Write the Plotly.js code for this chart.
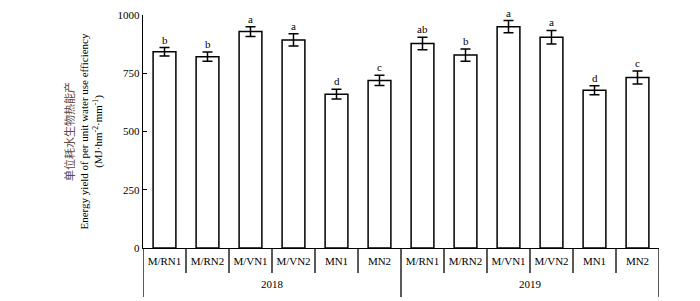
<!DOCTYPE html>
<html>
<head>
<meta charset="utf-8">
<script src="https://cdn.plot.ly/plotly-3.0.1.min.js"></script>
<style>html,body{margin:0;padding:0;background:#fff;}#chart{width:700px;height:301px;}</style>
</head>
<body>
<div id="chart"></div>
<script>
var categories = ["M/RN1","M/RN2","M/VN1","M/VN2","MN1","MN2","M/RN1","M/RN2","M/VN1","M/VN2","MN1","MN2"];
var years = ["2018","2019"];
var values = [842, 821, 929, 893, 660, 719, 878, 828, 950, 905, 677, 732];
var errors = [18, 20, 21, 26, 21, 22, 27, 26, 26, 29, 19, 28];
var letters = ["b","b","a","a","d","c","ab","b","a","a","d","c"];
var yTicks = [0, 250, 500, 750, 1000];

var xs = categories.map(function(_, i){ return i; });
var font = "Liberation Serif, Times New Roman, serif";

var trace = {
  type: "bar",
  x: xs,
  y: values,
  width: 0.53,
  marker: {color: "#ffffff", line: {color: "#000000", width: 1.5}},
  error_y: {type: "data", array: errors, visible: true, color: "#000000", thickness: 1.5, width: 5},
  hoverinfo: "none"
};

var annotations = [];
letters.forEach(function(t, i){
  annotations.push({x: xs[i], y: values[i] + errors[i], xref: "x", yref: "y", text: t, showarrow: false,
    yanchor: "bottom", font: {family: font, size: 11, color: "#000"}});
});
years.forEach(function(yr, k){
  annotations.push({x: 2.5 + 6*k, y: -0.155, xref: "x", yref: "paper", text: yr, showarrow: false,
    yanchor: "middle", font: {family: font, size: 11, color: "#000"}});
});

var shapes = [];
for (var i = 0; i <= categories.length; i++) {
  var pos = i - 0.5;
  var longLine = (i % 6 === 0);
  shapes.push({type: "line", xref: "x", yref: "paper", x0: pos, x1: pos, y0: 0, y1: longLine ? -0.21 : -0.107,
    line: {color: "#000", width: 1.3}});
}

var layout = {
  width: 700, height: 301,
  margin: {l: 143, r: 41, t: 15, b: 53},
  paper_bgcolor: "#fff", plot_bgcolor: "#fff",
  showlegend: false,
  xaxis: {
    range: [-0.5, 11.5], tickvals: xs, ticktext: categories, ticks: "", showgrid: false, zeroline: false,
    showline: true, linecolor: "#000", linewidth: 1.3, fixedrange: true,
    tickfont: {family: font, size: 11, color: "#000"}, ticklabelstandoff: 2
  },
  yaxis: {
    range: [0, 1000], tickvals: yTicks, ticktext: yTicks.map(String), ticks: "inside", ticklen: 4, tickwidth: 1.3,
    tickcolor: "#000", showgrid: false, zeroline: false, showline: true, linecolor: "#000", linewidth: 1.3,
    tickfont: {family: font, size: 11, color: "#000"}, automargin: false,
    title: {text: '<span style="color:#5e4a42;font-family:Noto Sans CJK SC">单位耗水生物热能产</span><br>Energy yield of per unit water use efficiency<br>(MJ·hm<sup>-2</sup>·mm<sup>-1</sup>)',
      font: {family: font, size: 11, color: "#000"}, standoff: 12}
  },
  annotations: annotations,
  shapes: shapes
};

Plotly.newPlot("chart", [trace], layout, {displayModeBar: false, staticPlot: true});
</script>
</body>
</html>
